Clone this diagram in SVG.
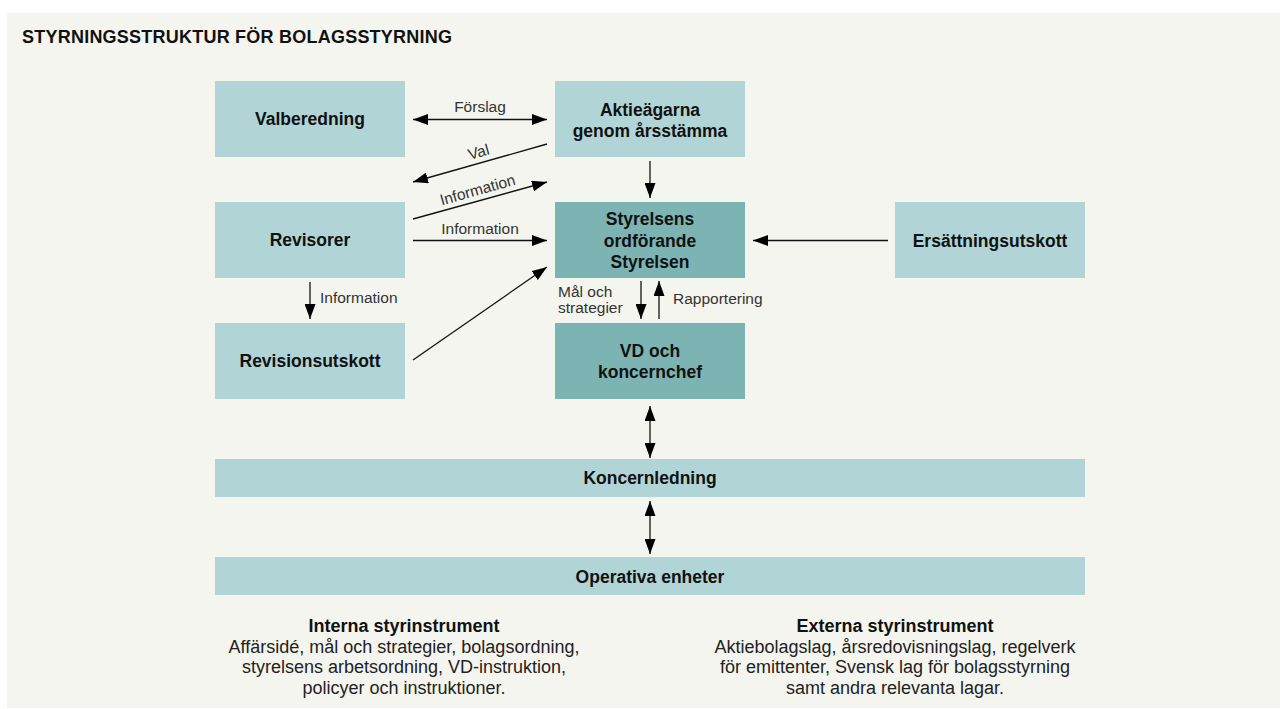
<svg xmlns="http://www.w3.org/2000/svg" width="1280" height="709" viewBox="0 0 1280 709">
<style>
.lt{fill:#b1d5d6}
.dk{fill:#7cb4b3}
.nt{font-family:"Liberation Sans",Arial,Helvetica,sans-serif;font-weight:bold;font-size:17.5px;fill:#111;text-anchor:middle}
.el{font-family:"Liberation Sans",Arial,Helvetica,sans-serif;font-size:15.5px;fill:#333}
.bt{font-family:"Liberation Sans",Arial,Helvetica,sans-serif;font-size:18px;fill:#222;text-anchor:middle}
.bb{font-family:"Liberation Sans",Arial,Helvetica,sans-serif;font-size:18px;font-weight:bold;fill:#111;text-anchor:middle}
.ln{stroke:#111;stroke-width:1.3;fill:none;marker-end:url(#ah)}
.dbl{marker-start:url(#ah)}
</style>
<defs>
<marker id="ah" markerUnits="userSpaceOnUse" markerWidth="15" markerHeight="11" refX="15" refY="5.5" orient="auto-start-reverse" viewBox="0 0 15 11">
<path d="M0,0 L15,5.5 L0,11 z" fill="#000"/>
</marker>
</defs>
<rect x="0" y="0" width="1280" height="709" fill="#ffffff"/>
<rect x="7" y="13" width="1273" height="695" fill="#f5f5ef"/>
<text x="22" y="42.5" font-family="Liberation Sans,Arial,sans-serif" font-weight="bold" font-size="18" fill="#111" textLength="430" lengthAdjust="spacing">STYRNINGSSTRUKTUR FÖR BOLAGSSTYRNING</text>

<g id="valberedning"><rect class="lt" x="215" y="81" width="190" height="76"/><text class="nt" x="310" y="125">Valberedning</text></g>
<g id="aktieagarna"><rect class="lt" x="555" y="81" width="190" height="76"/><text class="nt" x="650" y="116">Aktieägarna</text><text class="nt" x="650" y="137">genom årsstämma</text></g>
<g id="revisorer"><rect class="lt" x="215" y="202" width="190" height="76"/><text class="nt" x="310" y="246">Revisorer</text></g>
<g id="styrelsen"><rect class="dk" x="555" y="202" width="190" height="76"/><text class="nt" x="650" y="225">Styrelsens</text><text class="nt" x="650" y="246.5">ordförande</text><text class="nt" x="650" y="268">Styrelsen</text></g>
<g id="ersattningsutskott"><rect class="lt" x="895" y="202" width="190" height="76"/><text class="nt" x="990" y="246.5">Ersättningsutskott</text></g>
<g id="revisionsutskott"><rect class="lt" x="215" y="323" width="190" height="76"/><text class="nt" x="310" y="367">Revisionsutskott</text></g>
<g id="vd"><rect class="dk" x="555" y="323" width="190" height="76"/><text class="nt" x="650" y="357">VD och</text><text class="nt" x="650" y="378">koncernchef</text></g>
<g id="koncernledning"><rect class="lt" x="215" y="459" width="870" height="38"/><text class="nt" x="650" y="484">Koncernledning</text></g>
<g id="operativa"><rect class="lt" x="215" y="557" width="870" height="38"/><text class="nt" x="650" y="583">Operativa enheter</text></g>

<g id="connectors">
<path class="ln dbl" d="M413,119.5 L547,119.5"/>
<path class="ln" d="M547,144 L413,182"/>
<path class="ln" d="M413,219 L547,182"/>
<path class="ln" d="M413,240.5 L547,240.5"/>
<path class="ln" d="M650,161 L650,198"/>
<path class="ln" d="M888,240.5 L753,240.5"/>
<path class="ln" d="M310,282 L310,319"/>
<path class="ln" d="M413,360 L547,267"/>
<path class="ln" d="M641,281 L641,319"/>
<path class="ln" d="M659,319 L659,281"/>
<path class="ln dbl" d="M650,406 L650,458"/>
<path class="ln dbl" d="M650,501 L650,554"/>
<text class="el" x="480" y="112" text-anchor="middle">Förslag</text>
<text class="el" x="480" y="157" text-anchor="middle" transform="rotate(-15.8 480 157)">Val</text>
<text class="el" x="479" y="195" text-anchor="middle" transform="rotate(-15.8 479 195)">Information</text>
<text class="el" x="480" y="234" text-anchor="middle">Information</text>
<text class="el" x="320" y="303">Information</text>
<text class="el" x="558" y="297">Mål och</text>
<text class="el" x="558" y="313">strategier</text>
<text class="el" x="673" y="304">Rapportering</text>
</g>

<g id="interna">
<text class="bb" x="404" y="632">Interna styrinstrument</text>
<text class="bt" x="404" y="652.5">Affärsidé, mål och strategier, bolagsordning,</text>
<text class="bt" x="404" y="673">styrelsens arbetsordning, VD-instruktion,</text>
<text class="bt" x="404" y="694">policyer och instruktioner.</text>
</g>
<g id="externa">
<text class="bb" x="895" y="632">Externa styrinstrument</text>
<text class="bt" x="895" y="652.5">Aktiebolagslag, årsredovisningslag, regelverk</text>
<text class="bt" x="895" y="673">för emittenter, Svensk lag för bolagsstyrning</text>
<text class="bt" x="895" y="694">samt andra relevanta lagar.</text>
</g>
</svg>
